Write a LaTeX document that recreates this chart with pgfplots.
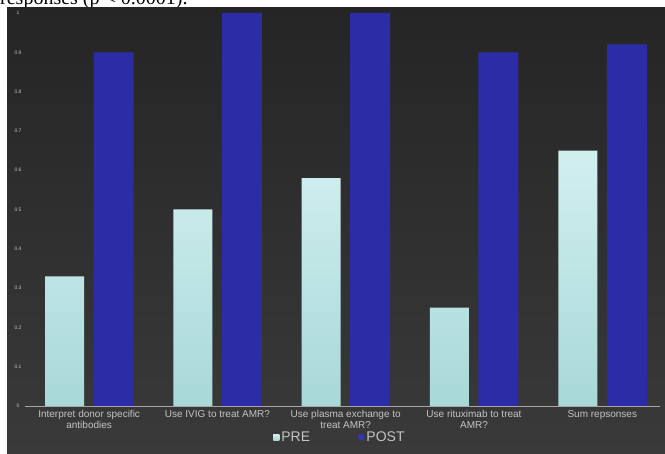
\documentclass[border=0pt]{standalone}
\usepackage{fontspec}
\setmainfont{Liberation Sans}
\newfontfamily\seriffont{Liberation Serif}
\usepackage{pgfplots}
\pgfplotsset{compat=1.18}
\definecolor{bgtop}{HTML}{252525}
\definecolor{bgbot}{HTML}{3A3A3A}
\definecolor{pretop}{HTML}{D2EFF0}
\definecolor{prebot}{HTML}{A8D8D8}
\definecolor{postc}{HTML}{2C2CA6}
\definecolor{postlg}{HTML}{3434C0}
\definecolor{lbl}{HTML}{C4C4C4}
\begin{document}
\begin{tikzpicture}[x=1pt,y=1pt]
\path[use as bounding box] (0,0) rectangle (665,454);
\fill[white] (0,0) rectangle (665,454);
\node[anchor=base west, inner sep=0pt, font=\seriffont\fontsize{20}{24}\selectfont] at (0,449) {responses (p < 0.0001).};
\shade[top color=bgtop, bottom color=bgbot] (7,0) rectangle (665,446);
\begin{axis}[
  at={(25pt,48pt)}, anchor=south west,
  scale only axis, width=635pt, height=393pt,
  xmin=-0.5, xmax=4.45, ymin=0, ymax=1,
  axis x line*=bottom, axis y line*=left,
  x axis line style={draw=gray!70, line width=0.6pt, -},
  y axis line style={draw=none},
  major tick length=0pt,
  xtick={0,1,2,3,4},
  xticklabels={{Interpret donor specific\\antibodies},{Use IVIG to treat AMR?},{Use plasma exchange to\\treat AMR?},{Use rituximab to treat\\AMR?},{Sum repsonses}},
  xticklabel style={font=\fontsize{10}{11}\selectfont, text=lbl, align=center, anchor=north, yshift=-1pt},
  ytick={0,0.1,0.2,0.3,0.4,0.5,0.6,0.7,0.8,0.9,1},
  yticklabels={0,0.1,0.2,0.3,0.4,0.5,0.6,0.7,0.8,0.9,1},
  yticklabel style={font=\fontsize{5}{6}\selectfont, text=lbl, anchor=center, xshift=-7pt},
  /pgf/number format/assume math mode=true,
  legend style={at={(0.496,-0.079)}, anchor=center, legend columns=2, draw=none, fill=none, text=lbl, font=\fontsize{14}{16}\selectfont, /tikz/every even column/.append style={column sep=46pt}},
  legend cell align=left,
]
\addplot[ybar, bar width=39pt, bar shift=-24.5pt, draw=none, top color=pretop, bottom color=prebot,
  legend image code/.code={\fill[prebot] (-4pt,-3pt) rectangle (2pt,3pt);}]
  coordinates {(0,0.33) (1,0.50) (2,0.58) (3,0.25) (4,0.65)};
\addlegendentry{PRE}
\addplot[ybar, bar width=40pt, bar shift=24.5pt, draw=none, fill=postc,
  legend image code/.code={\fill[postlg] (-1pt,0pt) circle (3.2pt);}]
  coordinates {(0,0.90) (1,1.00) (2,1.00) (3,0.90) (4,0.92)};
\addlegendentry{POST}
\end{axis}
\end{tikzpicture}
\end{document}
